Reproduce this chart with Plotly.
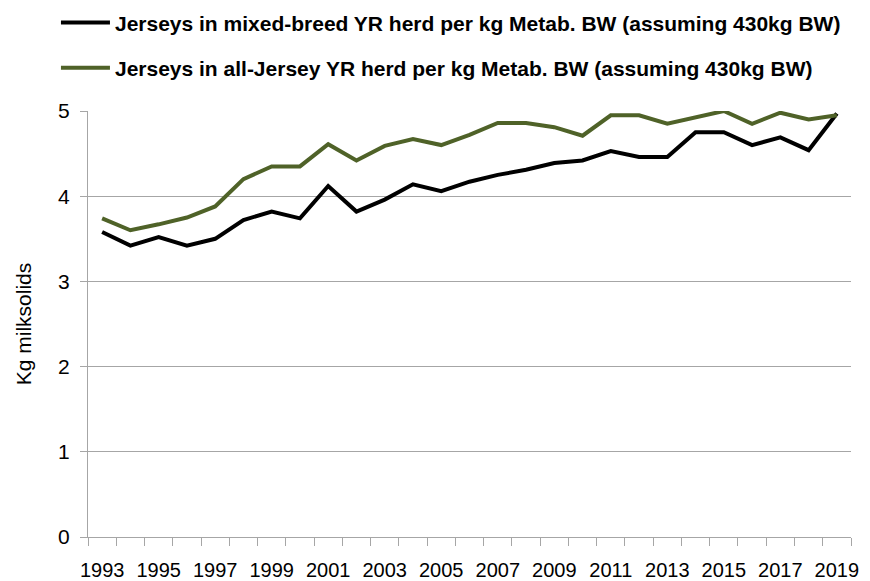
import plotly.graph_objects as go

years = list(range(1993, 2020))
mixed_breed = [3.58, 3.42, 3.52, 3.42, 3.50, 3.72, 3.82, 3.74, 4.12, 3.82,
               3.96, 4.14, 4.06, 4.17, 4.25, 4.31, 4.39, 4.42, 4.53, 4.46,
               4.46, 4.75, 4.75, 4.60, 4.69, 4.54, 4.97]
all_jersey = [3.74, 3.60, 3.67, 3.75, 3.88, 4.20, 4.35, 4.35, 4.61, 4.42,
              4.59, 4.67, 4.60, 4.72, 4.86, 4.86, 4.81, 4.71, 4.95, 4.95,
              4.85, 4.93, 5.00, 4.85, 4.98, 4.90, 4.95]
series_names = [
    "Jerseys in mixed-breed YR herd per kg Metab. BW (assuming 430kg BW)",
    "Jerseys in all-Jersey YR herd per kg Metab. BW (assuming 430kg BW)",
]
label_years = [y for y in years if y % 2 == 1]
y_ticks = [0, 1, 2, 3, 4, 5]

FONT = "Liberation Sans, Arial, sans-serif"
GRID = "#A6A6A6"

fig = go.Figure()
fig.add_trace(go.Scatter(x=years, y=mixed_breed, mode="lines", name=series_names[0],
                         line=dict(color="#000000", width=4), legendgroup="a"))
fig.add_trace(go.Scatter(x=years, y=all_jersey, mode="lines", name=series_names[1],
                         line=dict(color="#4F6228", width=4), legendgroup="b"))

fig.update_layout(
    width=870, height=581,
    margin=dict(l=80, r=27, t=103, b=52, autoexpand=False),
    paper_bgcolor="white", plot_bgcolor="white",
    font=dict(family=FONT, size=21, color="#000000"),
    showlegend=True,
    legend=dict(x=-0.042, y=1.255, yref="paper", xanchor="left", yanchor="top",
                traceorder="grouped", tracegroupgap=15, itemwidth=49,
                font=dict(family=FONT, size=21, color="#000000", weight="bold"),
                bgcolor="rgba(0,0,0,0)"),
    xaxis=dict(
        range=[1992.5, 2019.5], automargin=False,
        tickmode="array", tickvals=label_years, ticktext=[str(y) for y in label_years],
        ticks="", showgrid=False, zeroline=False,
        showline=True, linecolor=GRID, linewidth=1,
        tickfont=dict(size=20), ticklabelstandoff=15,
        minor=dict(tick0=1992.5, dtick=1, ticks="outside", ticklen=8,
                   tickcolor=GRID, tickwidth=1, showgrid=False),
    ),
    yaxis=dict(
        range=[0, 5], tickmode="array", tickvals=y_ticks, automargin=False,
        ticks="outside", ticklen=7, tickcolor=GRID, tickwidth=1,
        showgrid=True, gridcolor=GRID, gridwidth=1,
        showline=True, linecolor=GRID, linewidth=1, zeroline=False,
        tickfont=dict(size=21), ticklabelstandoff=6,
        title=dict(text="Kg milksolids", font=dict(size=21), standoff=20),
    ),
)

fig.write_html("out.html")
